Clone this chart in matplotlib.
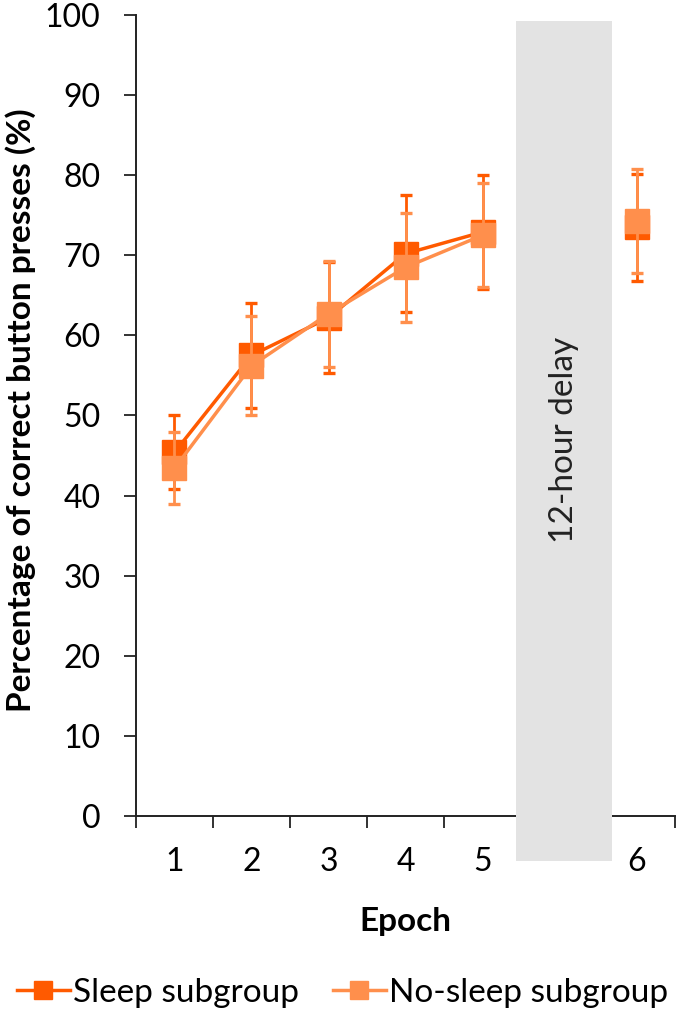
import numpy as np
import matplotlib.pyplot as plt
from matplotlib.patches import Rectangle

plt.rcParams['font.family'] = ['Lato', 'DejaVu Sans']

# categories (blank slot stands for the 12-hour delay)
cat_labels = ['1', '2', '3', '4', '5', '', '6']
sleep_mean = [45.4, 57.5, 62.2, 70.2, 72.9, np.nan, 73.5]
sleep_err = [4.6, 6.6, 6.9, 7.3, 7.1, np.nan, 6.7]
nosleep_mean = [43.4, 56.2, 62.7, 68.5, 72.5, np.nan, 74.3]
nosleep_err = [4.5, 6.2, 6.6, 6.8, 6.5, np.nan, 6.5]

dark = '#FF5A00'
light = '#FF8F4C'
fs = 24

fig = plt.figure(figsize=(6.85, 10.13), dpi=100)
ax = fig.add_axes([0.1985, 0.1945, 0.787, 0.7907])

x = np.arange(1, len(cat_labels) + 1)

for m, e, c, lab, z in [(sleep_mean, sleep_err, dark, 'Sleep subgroup', 4),
                        (nosleep_mean, nosleep_err, light, 'No-sleep subgroup', 5)]:
    ax.errorbar(x, m, yerr=e, fmt='none', ecolor=c, elinewidth=2.0,
                capsize=4, capthick=2.4, zorder=z)
    ax.plot(x, m, color=c, lw=2.5, marker='s', markersize=17,
            label=lab, zorder=z)

ax.set_ylim(0, 100)
ax.set_xlim(0.5, len(cat_labels) + 0.5)
ax.set_yticks(np.arange(0, 101, 10))
ax.set_xticks(x)
ax.set_xticklabels(cat_labels)
ax.set_xticks(np.arange(0.5, len(cat_labels) + 1, 1), minor=True)
ax.tick_params(axis='x', which='major', length=0, pad=22, labelsize=23)
ax.tick_params(axis='x', which='minor', length=8.6, width=1.3, color='#222222')
ax.tick_params(axis='y', length=8.6, width=1.3, color='#222222', labelsize=23, pad=17)
for s in ['top', 'right']:
    ax.spines[s].set_visible(False)
for s in ['left', 'bottom']:
    ax.spines[s].set_linewidth(1.4)
    ax.spines[s].set_color('#222222')

# delay band
ax.add_patch(Rectangle((5.44, -5.6), 1.24, 104.85, facecolor='#E3E3E3',
                       edgecolor='none', clip_on=False, zorder=3))
ax.text(6.06, 47, '12-hour delay', rotation=90, ha='center', va='center',
        fontsize=fs, color='#222222', zorder=6)

ax.set_xlabel('Epoch', fontsize=fs, fontweight='bold')
ax.xaxis.set_label_coords(0.5, -0.114)
ax.set_ylabel('Percentage of correct button presses (%)', fontsize=fs,
              fontweight='bold')
ax.yaxis.set_label_coords(-0.185, 0.507)

fig.legend(loc='center', bbox_to_anchor=(0.5, 0.02), ncol=2, frameon=False,
           fontsize=fs, handlelength=1.6, handletextpad=0.1, columnspacing=1.0,
           markerscale=0.75)

fig.savefig('out.png', dpi=100)
